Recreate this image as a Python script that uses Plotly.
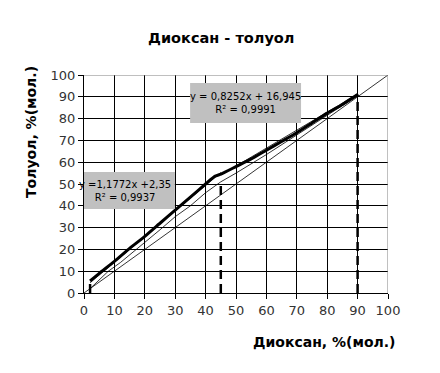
import plotly.graph_objects as go

# Equilibrium curve (thick)
eq_x = [2, 5, 10, 15, 20, 25, 30, 35, 40, 43, 45, 50, 55, 60, 65, 70, 75, 80, 85, 90]
eq_y = [5.5, 9, 14.5, 20.5, 26, 32, 38, 44, 50, 53.5, 54.5, 58, 61.5, 65.5, 69.5, 73.5, 78, 82.5, 86.5, 91]

# Thin experimental line
thin_x = [2, 8, 12, 20, 25, 30, 35, 40, 45, 50, 60, 70, 80, 90]
thin_y = [2, 10, 14, 23, 29, 35, 40, 46, 51, 55, 63.5, 72.5, 81.5, 90.5]

# Trendlines (endpoints)
tr1_x = [2, 45]
tr1_y = [4.7, 55.3]
tr2_x = [45, 90]
tr2_y = [54.1, 91.2]

# Diagonal
diag_x = [0, 100]
diag_y = [0, 100]

# Dashed verticals
vl_x = [2, 45, 90]
vl_top = [5.5, 50, 91]

ticks = [0, 10, 20, 30, 40, 50, 60, 70, 80, 90, 100]

fig = go.Figure()
fig.add_trace(go.Scatter(x=diag_x, y=diag_y, mode="lines", line=dict(color="black", width=0.8)))
fig.add_trace(go.Scatter(x=thin_x, y=thin_y, mode="lines", line=dict(color="black", width=0.8)))
fig.add_trace(go.Scatter(x=tr1_x, y=tr1_y, mode="lines", line=dict(color="black", width=0.8)))
fig.add_trace(go.Scatter(x=tr2_x, y=tr2_y, mode="lines", line=dict(color="black", width=0.8)))
fig.add_trace(go.Scatter(x=eq_x, y=eq_y, mode="lines", line=dict(color="black", width=3, shape="spline", smoothing=0.4)))
for xv, yt in zip(vl_x, vl_top):
    fig.add_trace(go.Scatter(x=[xv, xv], y=[0, yt], mode="lines",
                             line=dict(color="black", width=2.5, dash="9px,5px")))

font = "DejaVu Sans"
fig.update_layout(
    width=440, height=373,
    margin=dict(l=84, r=52, t=75, b=80),
    paper_bgcolor="white", plot_bgcolor="white",
    showlegend=False,
    font=dict(family=font, size=13, color="#222"),
    xaxis=dict(range=[0, 100], tickvals=ticks, showgrid=True, gridcolor="black", gridwidth=1,
               showline=True, linecolor="black", linewidth=1, ticks="outside", ticklen=5,
               tickcolor="black", zeroline=False, tickfont=dict(size=13, color="#333")),
    yaxis=dict(range=[0, 100], tickvals=ticks, showgrid=True, gridcolor="black", gridwidth=1,
               showline=True, linecolor="black", linewidth=1, ticks="outside", ticklen=5,
               tickcolor="black", zeroline=False, tickfont=dict(size=13, color="#333")),
    shapes=[
        dict(type="line", xref="x", yref="y", x0=100, x1=100, y0=0, y1=100,
             line=dict(color="#808080", width=1), layer="above"),
        dict(type="line", xref="x", yref="y", x0=0, x1=100, y0=100, y1=100,
             line=dict(color="#808080", width=1), layer="above"),
        dict(type="rect", xref="x", yref="y", x0=-2.6, x1=29.9, y0=38.5, y1=55.5,
             fillcolor="#c0c0c0", line=dict(width=0), layer="above"),
        dict(type="rect", xref="x", yref="y", x0=34.9, x1=71.4, y0=78, y1=96.3,
             fillcolor="#c0c0c0", line=dict(width=0), layer="above"),
    ],
    annotations=[
        dict(text="<b>Диоксан - толуол</b>", xref="paper", yref="paper",
             x=(221 - 84) / 304, y=(293 - 38) / 218, xanchor="center", yanchor="middle",
             showarrow=False, font=dict(size=14.5, color="black")),
        dict(text="<b>Диоксан, %(мол.)</b>", xref="paper", yref="paper",
             x=(397 - 84) / 304, y=(293 - 342) / 218, xanchor="right", yanchor="middle",
             showarrow=False, font=dict(size=14, color="black")),
        dict(text="<b>Толуол, %(мол.)</b>", xref="paper", yref="paper",
             x=(31 - 84) / 304, y=(293 - 132) / 218, xanchor="center", yanchor="middle",
             textangle=-90, showarrow=False, font=dict(size=14, color="black")),
        dict(text="y =1,1772x +2,35<br>R² = 0,9937", xref="x", yref="y",
             x=13.6, y=47, xanchor="center", yanchor="middle", align="center",
             showarrow=False, font=dict(size=10, color="black")),
        dict(text="y = 0,8252x + 16,945<br>R² = 0,9991", xref="x", yref="y",
             x=53.1, y=87.2, xanchor="center", yanchor="middle", align="center",
             showarrow=False, font=dict(size=10, color="black")),
    ],
)

fig.write_html("out.html")
